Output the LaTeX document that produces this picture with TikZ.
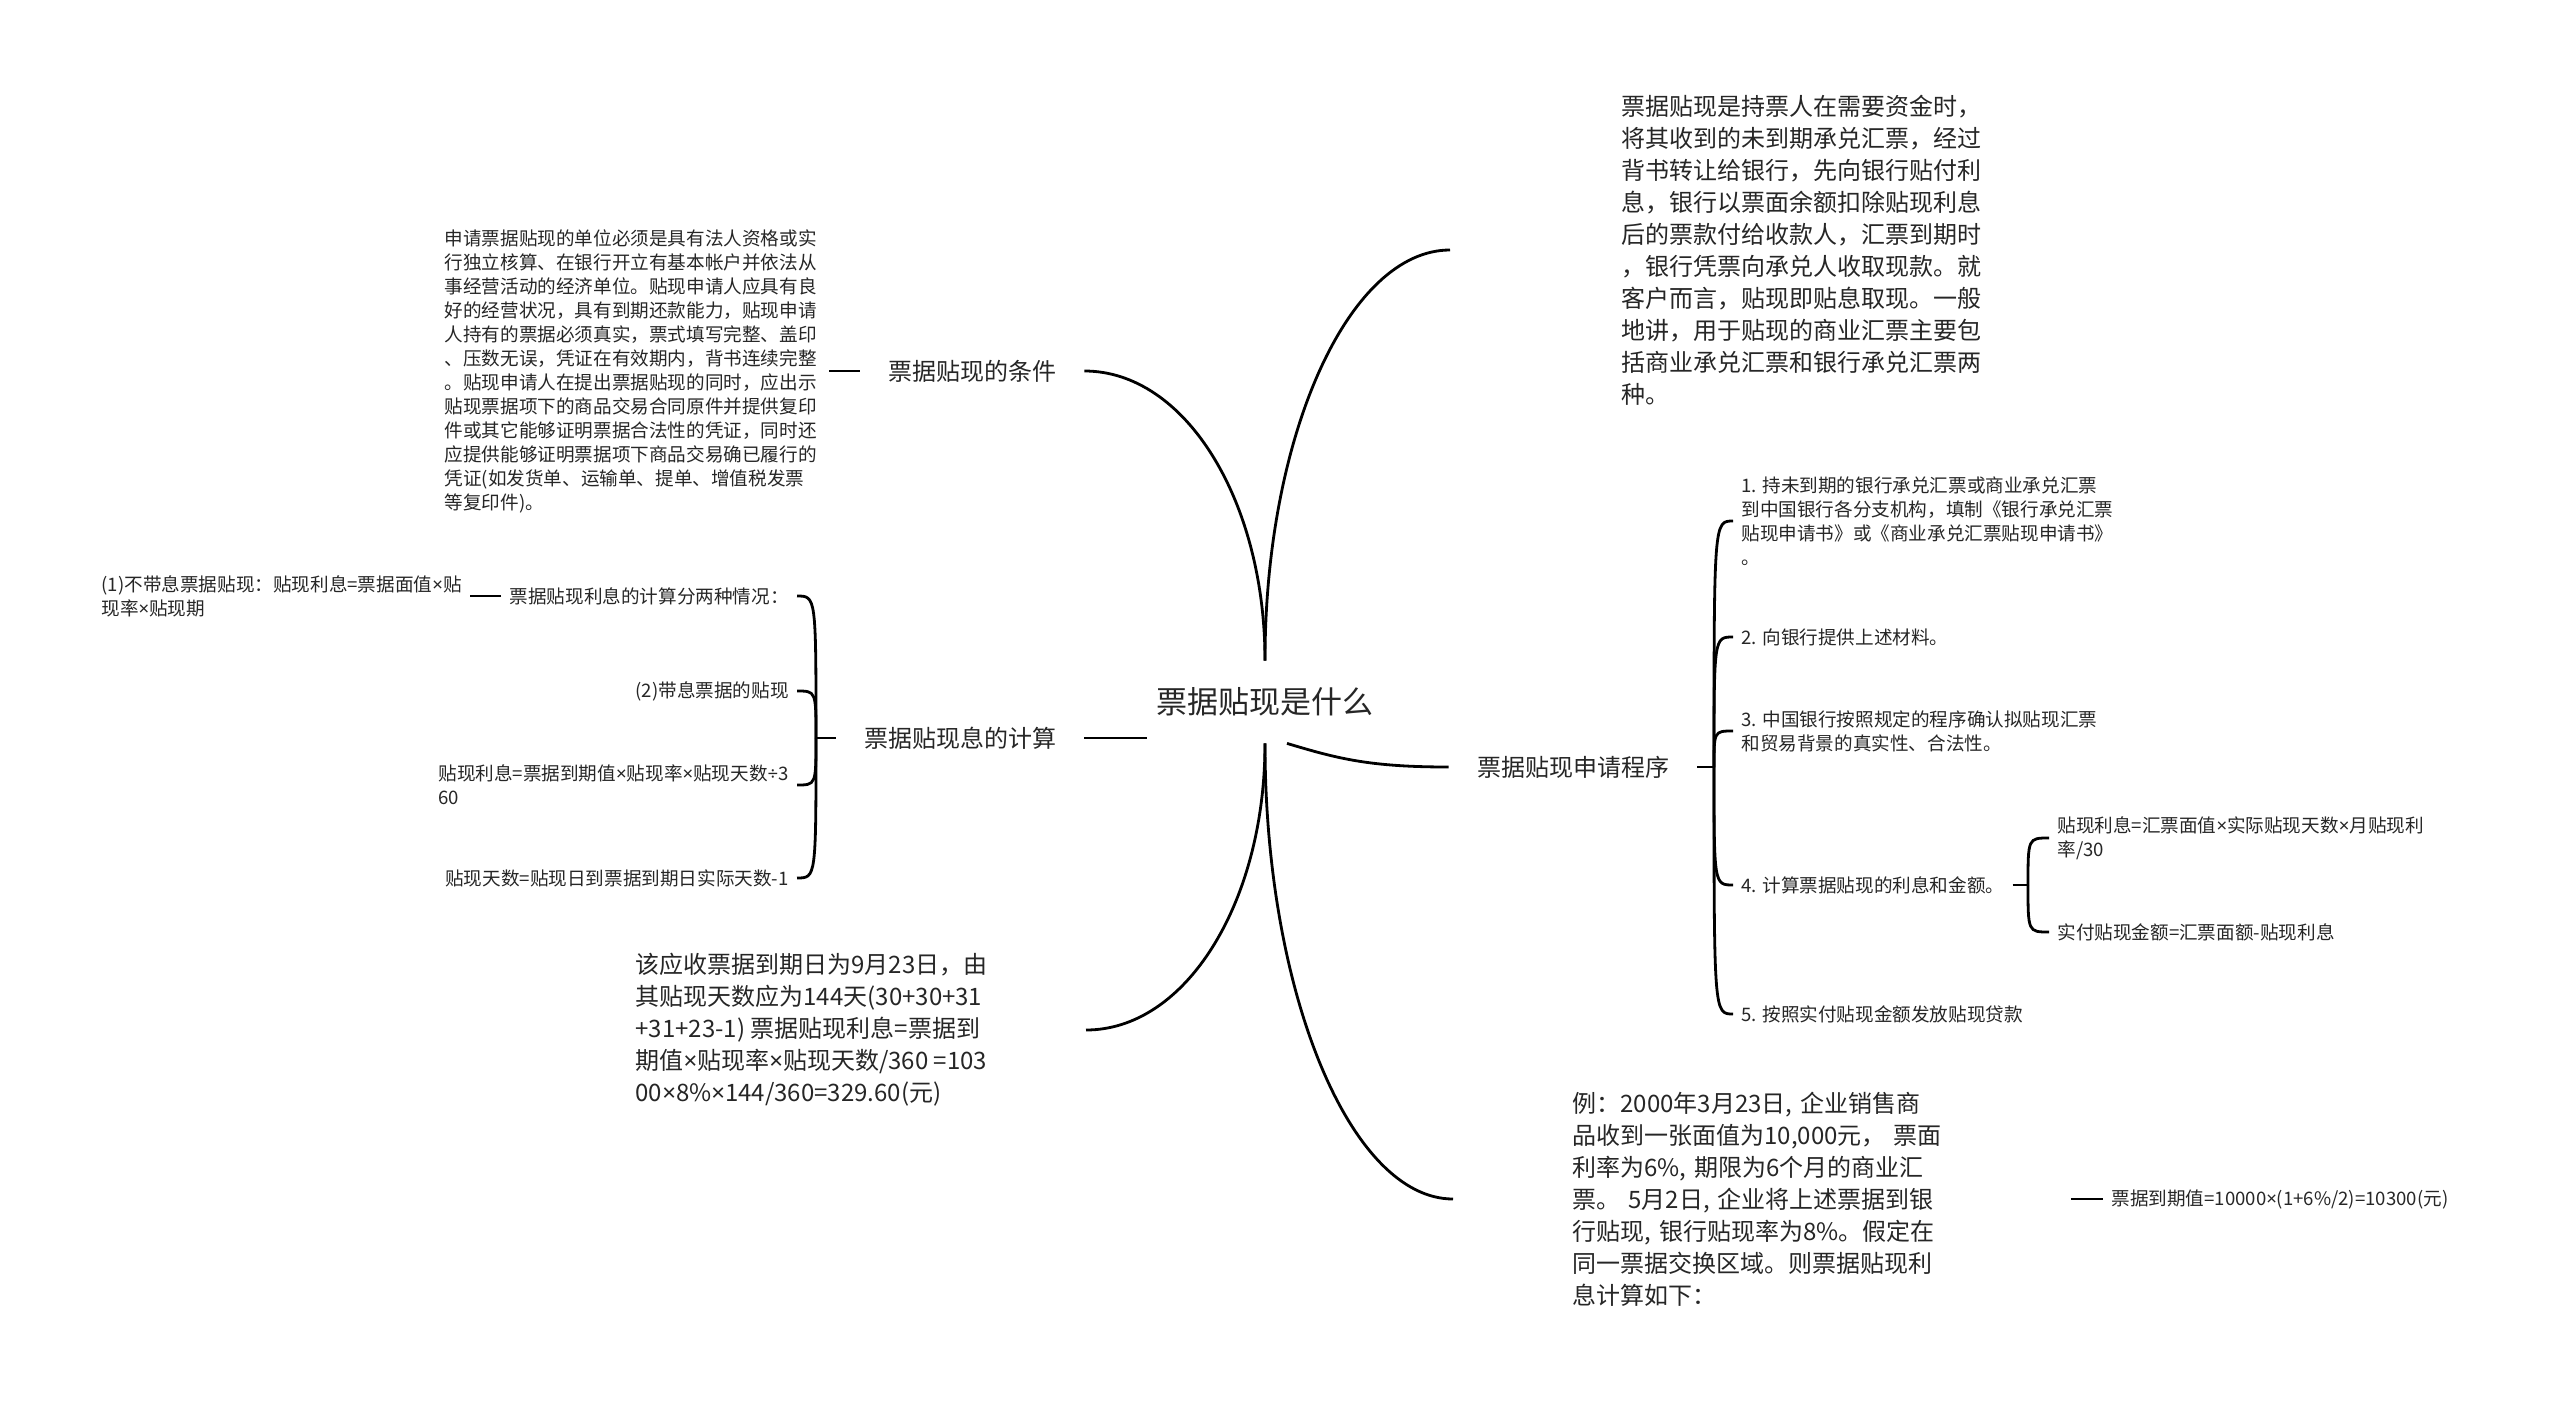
\documentclass[tikz,border=0pt]{standalone}
\usepackage{fontspec}
\setmainfont{Noto Sans CJK SC}
\newfontfamily\latinfont{Noto Sans}
\newcommand{\ctimes}{{\latinfont ×}}
\newcommand{\cdivide}{{\latinfont ÷}}

\begin{document}
\begin{tikzpicture}[
	x=0.5pt, y=-0.5pt,
	every node/.style={inner sep=0pt, text=black!85},
	link/.style={line width=1.4pt, draw=black},
	rootnode/.style={font=\fontsize{15.5}{19}\selectfont, minimum width=118pt, minimum height=41pt},
	mainnode/.style={font=\fontsize{12}{15}\selectfont, inner xsep=14pt, inner ysep=3pt},
	leafnode/.style={font=\fontsize{9.3}{12}\selectfont, inner xsep=4pt, inner ysep=2pt, align=left},
	parnode/.style={font=\fontsize{12}{16}\selectfont, align=left},
]
\useasboundingbox (0,0) rectangle (2560,1403);

\node[rootnode] (root) at (1265,702) {票据贴现是什么};

\node[mainnode] (cond) at (972,371) {票据贴现的条件};
\node[leafnode, anchor=east, text width=188pt] (condtxt) at (829,371) {申请票据贴现的单位必须是具有法人资格或实\\行独立核算、在银行开立有基本帐户并依法从\\事经营活动的经济单位。贴现申请人应具有良\\好的经营状况，具有到期还款能力，贴现申请\\人持有的票据必须真实，票式填写完整、盖印\\、压数无误，凭证在有效期内，背书连续完整\\。贴现申请人在提出票据贴现的同时，应出示\\贴现票据项下的商品交易合同原件并提供复印\\件或其它能够证明票据合法性的凭证，同时还\\应提供能够证明票据项下商品交易确已履行的\\凭证(如发货单、运输单、提单、增值税发票\\等复印件)。};

\node[mainnode] (calc) at (960,738) {票据贴现息的计算};
\coordinate (calcj) at (816,738);
\node[leafnode, anchor=east] (calc1) at (797,596) {票据贴现利息的计算分两种情况：};
\node[leafnode, anchor=east] (calc1a) at (470,596) {(1)不带息票据贴现：贴现利息=票据面值\ctimes 贴\\现率\ctimes 贴现期};
\node[leafnode, anchor=east] (calc2) at (797,691) {(2)带息票据的贴现};
\node[leafnode, anchor=east] (calc3) at (797,785) {贴现利息=票据到期值\ctimes 贴现率\ctimes 贴现天数\cdivide 3\\60};
\node[leafnode, anchor=east] (calc4) at (797,878) {贴现天数=贴现日到票据到期日实际天数-1};

\node[parnode, anchor=east, inner xsep=49pt] (eg) at (1086,1030) {该应收票据到期日为9月23日，由\\其贴现天数应为144天(30+30+31\\+31+23-1) 票据贴现利息=票据到\\期值\ctimes 贴现率\ctimes 贴现天数/360 =103\\00\ctimes 8\%\ctimes 144/360=329.60(元)};

\node[parnode, anchor=west, inner xsep=85.5pt] (def) at (1450,250) {票据贴现是持票人在需要资金时，\\将其收到的未到期承兑汇票，经过\\背书转让给银行，先向银行贴付利\\息，银行以票面余额扣除贴现利息\\后的票款付给收款人，汇票到期时\\，银行凭票向承兑人收取现款。就\\客户而言，贴现即贴息取现。一般\\地讲，用于贴现的商业汇票主要包\\括商业承兑汇票和银行承兑汇票两\\种。};

\node[mainnode] (proc) at (1573,767) {票据贴现申请程序};
\coordinate (procj) at (1714,767);
\node[leafnode, anchor=west] (step1) at (1733,521) {1. 持未到期的银行承兑汇票或商业承兑汇票\\到中国银行各分支机构，填制《银行承兑汇票\\贴现申请书》或《商业承兑汇票贴现申请书》\\。};
\node[leafnode, anchor=west] (step2) at (1733,637) {2. 向银行提供上述材料。};
\node[leafnode, anchor=west] (step3) at (1733,731) {3. 中国银行按照规定的程序确认拟贴现汇票\\和贸易背景的真实性、合法性。};
\node[leafnode, anchor=west] (step4) at (1733,885) {4. 计算票据贴现的利息和金额。};
\coordinate (step4j) at (2028,885);
\node[leafnode, anchor=west] (step4a) at (2049,838) {贴现利息=汇票面值\ctimes 实际贴现天数\ctimes 月贴现利\\率/30};
\node[leafnode, anchor=west] (step4b) at (2049,932) {实付贴现金额=汇票面额-贴现利息};
\node[leafnode, anchor=west] (step5) at (1733,1014) {5. 按照实付贴现金额发放贴现贷款};

\node[parnode, anchor=west, inner xsep=59.5pt, text width=189.5pt] (ex) at (1453,1199) {例：2000年3月23日, 企业销售商\\品收到一张面值为10,000元， 票面\\利率为6\%, 期限为6个月的商业汇\\票。 5月2日, 企业将上述票据到银\\行贴现, 银行贴现率为8\%。假定在\\同一票据交换区域。则票据贴现利\\息计算如下：};
\node[leafnode, anchor=west] (val) at (2103,1199) {票据到期值=10000\ctimes (1+6\%/2)=10300(元)};

\draw[link] (root.north) .. controls +(0,-160) and +(101,0) .. (cond.east);
\draw[link] (root.north) .. controls +(0,-226) and +(-101,0) .. (def.west);
\draw[link] (root.west |- calc.east) -- (calc.east);
\draw[link] ([xshift=11pt]root.south) .. controls +(50,15) and +(-80,0) .. (proc.west);
\draw[link] (root.south) .. controls +(0,159) and +(100,0) .. (eg.east);
\draw[link] (root.south) .. controls +(0,251) and +(-102,0) .. (ex.west);

\draw[link] (cond.west) -- (condtxt.east);
\draw[link] (calc.west) -- (calcj);
\foreach \n in {calc1,calc2,calc3,calc4}
	\draw[link] (calcj) .. controls (calcj |- \n.east) and (calcj |- \n.east) .. (\n.east);
\draw[link] (calc1.west) -- (calc1a.east);
\draw[link] (proc.east) -- (procj);
\foreach \n in {step1,step2,step3,step4,step5}
	\draw[link] (procj) .. controls (procj |- \n.west) and (procj |- \n.west) .. (\n.west);
\draw[link] (step4.east) -- (step4j);
\foreach \n in {step4a,step4b}
	\draw[link] (step4j) .. controls (step4j |- \n.west) and (step4j |- \n.west) .. (\n.west);
\draw[link] (ex.east) -- (val.west);
\end{tikzpicture}
\end{document}
